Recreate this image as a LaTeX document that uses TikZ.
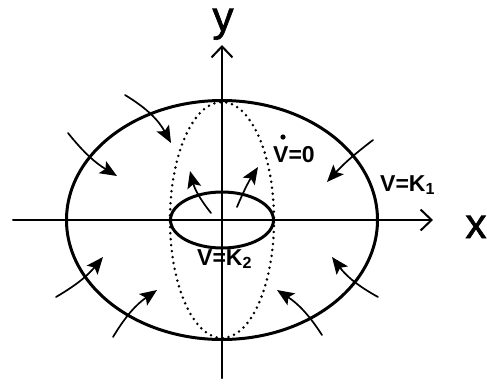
\documentclass[tikz,border=0pt]{standalone}
\usepackage{fontspec}
\setmainfont{Liberation Sans}
\newfontfamily\heavyfont{Liberation Sans}[FakeBold=1.6]
\usetikzlibrary{arrows.meta}

\begin{document}
\begin{tikzpicture}[x=1pt,y=-1pt,line cap=round,
  axis/.style={line width=2pt,-{Straight Barb[length=11pt,width=21pt,line width=2pt]}},
  level/.style={line width=3pt},
  flow/.style={line width=1.7pt,-{Stealth[length=17pt,width=14pt,inset=3.5pt]}},
  lbl/.style={font=\fontsize{23}{26}\selectfont\bfseries,inner sep=0pt,anchor=base west},
  axlbl/.style={font=\heavyfont\fontsize{42}{48}\selectfont,inner sep=0pt,text height=22pt,anchor=base}]
\useasboundingbox (0,0) rectangle (487,384);
\coordinate (o) at (222,220);
% axes
\draw[axis] (13,220) -- (433,220);
\draw[axis] (222,378) -- (222,45);
\node[axlbl] (xlab) at (476,238) {x};
\node[axlbl] (ylab) at (223,31) {y};
% level sets
\draw[level] (o) ellipse [x radius=155.5, y radius=119.5];
\draw[level] (o) ellipse [x radius=51.5, y radius=28];
\draw[line width=2.8pt,dash pattern=on 0pt off 6pt] (o) ellipse [x radius=52, y radius=118];
% labels
\node[lbl] (vdot) at (273,162) {V=0};
\fill (283,137) circle (2.6);
\node[lbl] (k1) at (380,191) {V=K\textsubscript{1}};
\node[lbl] (k2) at (197,265) {V=K\textsubscript{2}};
% trajectories
\draw[flow] (125,95) to[bend left=15] (171,143);
\draw[flow] (68,133) to[bend right=10] (117,176);
\draw[flow] (211,213) to[bend left=12] (190,171);
\draw[flow] (237,207) to[bend left=5] (258,167);
\draw[flow] (373,140) to[bend right=5] (327,182);
\draw[flow] (56,297) to[bend right=10] (103,257);
\draw[flow] (113,337) to[bend left=12] (157,290);
\draw[flow] (322,335) to[bend right=12] (277,290);
\draw[flow] (378,297) to[bend left=12] (332,257);
\end{tikzpicture}
\end{document}
